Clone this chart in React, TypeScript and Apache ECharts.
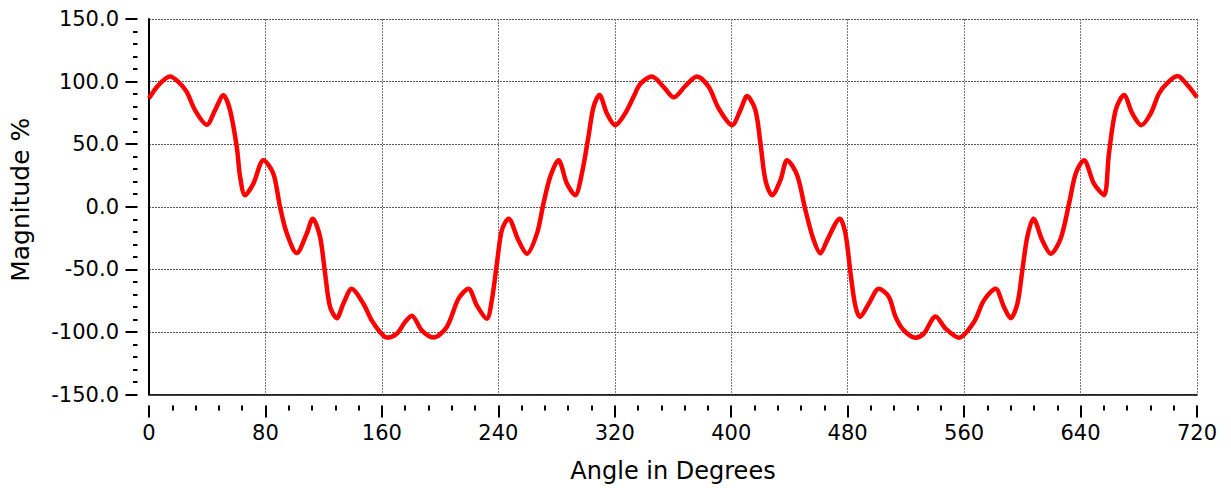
import React, { useEffect, useRef } from "react";
import * as echarts from "echarts";

const angleDeg: number[] = [
  0, 6.4, 14.4, 20, 25.9, 31.6, 39.7, 45.4, 51.1, 55.7, 60.3, 62.6, 66, 71.7, 78.6, 85.4, 90, 94.6, 101.5,
  108.4, 112.5, 117.5, 121, 124.4, 129, 133.5, 139.3, 147.3, 153, 158.8, 163.4, 170.2, 176, 180.5, 187.4,
  195.4, 204.6, 212.6, 219.5, 225.2, 232.1, 235.5, 239, 242.4, 247, 253.8, 259.6, 266.5, 271, 275.6, 281.3,
  287.1, 292.8, 297.4, 301.9, 305.4, 309.5, 314.6, 320.3, 327.1, 332.9, 337.5, 345.5, 353.5, 360.5, 368.4,
  376.5, 384.5, 391.4, 400.6, 406.3, 410.9, 416.6, 420.1, 423.5, 428.1, 433.8, 438.4, 445.3, 451, 456.7,
  461.3, 465.9, 474.6, 478.5, 482, 485.2, 488.4, 494.5, 501.4, 508.3, 512.9, 518.6, 526.6, 532.3, 540.4,
  547.3, 556.4, 566.7, 573.6, 581.6, 587.4, 592, 596.6, 600, 603.4, 607.6, 613.7, 619.5, 626.3, 632.1,
  636.7, 642.3, 649.2, 656.1, 659.5, 664.1, 669.8, 675.6, 681.8, 688.2, 693.9, 699.7, 706.6, 713.4, 720,
];

const magnitude: number[] = [
  86.6, 97, 104, 100, 91.8, 77.2, 65.5, 77.2, 89, 77, 47.8, 23.8, 9.2, 18.5, 37.2, 26.5, 0, -21, -37,
  -21.4, -9.5, -24, -53.5, -80, -89, -77.5, -65.5, -77.5, -90.8, -100.2, -104.5, -101.4, -92, -87, -98.8,
  -104.5, -96, -73.5, -65.5, -78.8, -89.5, -74.8, -45.5, -18.8, -9.5, -26.8, -37.5, -21.5, 2.5, 23.8, 37.2,
  18.5, 9.2, 26.6, 55.8, 79.8, 89.2, 74.5, 65.2, 74.5, 87.8, 98, 104, 95.8, 87.4, 96.4,
  104, 95.8, 78.5, 65.2, 77.2, 88.4, 77.2, 50.5, 21.2, 9.2, 21.2, 37.2, 25.2, -2.8, -26.8,
  -37.2, -26.8, -9.5, -21.5, -53.5, -78.8, -88, -77.5, -65.5, -72, -88, -98.8, -104.6, -101.4, -87.6,
  -97.4, -104.6, -92.2, -74.8, -65.5, -80.2, -89, -77.5, -50.8, -24.2, -9.5, -26.8, -37.5, -25.5, 2.5,
  26.5, 37.2, 18.5, 9.2, 42.5, 77.2, 89.2, 74.5, 65.2, 74.5, 90.5, 99, 104.4, 97.2, 87.4,
];

const X_MIN = 0;
const X_MAX = 720;
const X_STEP = 80;
const Y_MIN = -150;
const Y_MAX = 150;
const Y_STEP = 50;

const FONT = "DejaVu Sans";

export default function App() {
  const ref = useRef<HTMLDivElement>(null);

  useEffect(() => {
    if (!ref.current) return;
    const chart = echarts.init(ref.current, undefined, { renderer: "svg" });
    const hLine = { show: true, lineStyle: { color: "#555", width: 1, type: [2, 1] as any } };
    const vLine = { show: true, lineStyle: { color: "#777", width: 1, type: [2, 1] as any } };
    const option: any = {
      animation: false,
      backgroundColor: "#ffffff",
      grid: { left: 149, right: 34, top: 19, bottom: 96.5, containLabel: false },
      xAxis: [
        {
          type: "value",
          position: "bottom",
          min: X_MIN,
          max: X_MAX,
          interval: X_STEP,
          axisLine: { show: true, onZero: false, lineStyle: { color: "#000", width: 1.5 } },
          axisTick: { show: false },
          axisLabel: { show: false },
          splitLine: vLine,
          name: "Angle in Degrees",
          nameLocation: "middle",
          nameGap: 64,
          nameTextStyle: { fontFamily: FONT, fontSize: 24, color: "#000" },
        },
        {
          type: "value",
          position: "bottom",
          offset: 11,
          min: X_MIN,
          max: X_MAX,
          interval: X_STEP,
          axisLine: { show: false, onZero: false },
          axisTick: { show: true, length: 12, lineStyle: { color: "#000", width: 2 } },
          minorTick: { show: true, splitNumber: 5, length: 5, lineStyle: { color: "#000", width: 2 } },
          axisLabel: {
            show: true,
            margin: 17,
            showMinLabel: true,
            showMaxLabel: true,
            fontFamily: FONT,
            fontSize: 21,
            color: "#000",
          },
          splitLine: { show: false },
        },
      ],
      yAxis: [
        {
          type: "value",
          position: "left",
          min: Y_MIN,
          max: Y_MAX,
          interval: Y_STEP,
          axisLine: { show: true, onZero: false, lineStyle: { color: "#000", width: 2 } },
          axisTick: { show: false },
          axisLabel: { show: false },
          splitLine: hLine,
          name: "Magnitude %",
          nameLocation: "middle",
          nameRotate: 90,
          nameGap: 116,
          nameTextStyle: { fontFamily: FONT, fontSize: 25, color: "#000", padding: [0, 0, 0, 14] },
        },
        {
          type: "value",
          position: "left",
          offset: 11.5,
          min: Y_MIN,
          max: Y_MAX,
          interval: Y_STEP,
          axisLine: { show: false, onZero: false },
          axisTick: { show: true, length: 12, lineStyle: { color: "#000", width: 2 } },
          minorTick: { show: true, splitNumber: 5, length: 4.5, lineStyle: { color: "#000", width: 2 } },
          axisLabel: {
            show: true,
            margin: 18.5,
            showMinLabel: true,
            showMaxLabel: true,
            fontFamily: FONT,
            fontSize: 21,
            color: "#000",
            formatter: (v: number) => v.toFixed(1),
          },
          splitLine: { show: false },
        },
      ],
      series: [
        {
          type: "line",
          xAxisIndex: 0,
          yAxisIndex: 0,
          data: angleDeg.map((a, i) => [a, magnitude[i]]),
          smooth: 0.3,
          symbol: "none",
          lineStyle: { color: "#ff0000", width: 4.5 },
        },
      ],
    };
    chart.setOption(option);
    return () => chart.dispose();
  }, []);

  return (
    <div
      ref={ref}
      style={{ position: "fixed", left: 0, top: 0, width: 1231, height: 491, background: "#fff" }}
    />
  );
}
